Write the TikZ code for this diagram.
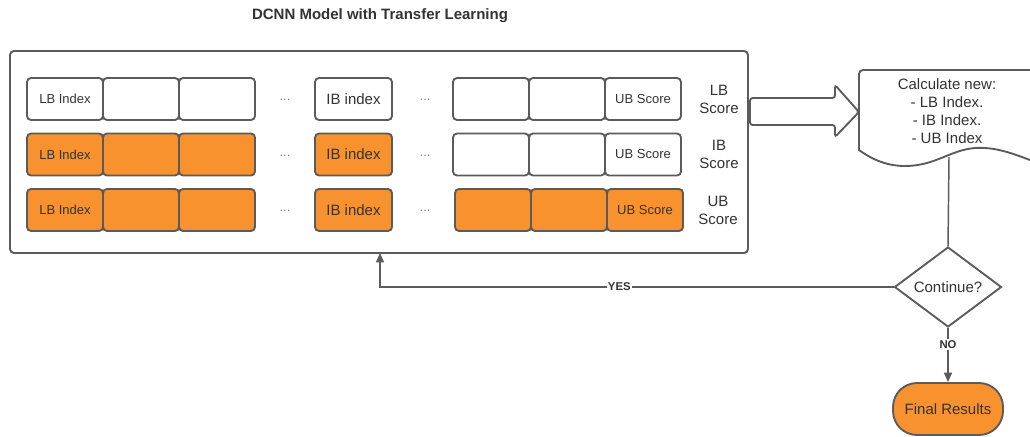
\documentclass[tikz,border=0pt]{standalone}
\usepackage{fontspec}
\setmainfont{Liberation Sans}
\usetikzlibrary{shapes.geometric,arrows.meta}
\definecolor{edge}{HTML}{5B5B5B}
\definecolor{ink}{HTML}{333333}
\definecolor{hotfill}{HTML}{F7922F}
\tikzset{
  cell/.style={draw=edge, line width=1.4pt, rounded corners=3pt,
    minimum width=57pt, minimum height=31.5pt, inner sep=0pt, text=ink,
    font=\fontsize{9.75}{11}\selectfont},
  hot/.style={fill=hotfill},
  bigtext/.style={font=\fontsize{11.25}{13.5}\selectfont, text=ink},
  dots/.style={text=edge!75, font=\fontsize{9.5}{10}\selectfont},
  flow/.style={draw=edge, line width=1.1pt},
  tip/.style={-{Triangle[length=7pt,width=6pt]}},
  tag/.style={font=\bfseries\fontsize{8.5}{10}\selectfont, text=ink,
    fill=white, inner sep=1pt},
}
\begin{document}
\begin{tikzpicture}[x=0.75pt,y=-0.75pt]
\useasboundingbox (0,0) rectangle (1030,436);
\fill[white] (0,0) rectangle (1030,436);

% title
\node[font=\bfseries\fontsize{11.25}{13}\selectfont, text=ink] (title) at (380,16)
  {DCNN Model with Transfer Learning};

% model frame
\node[draw=edge, line width=1.4pt, rounded corners=3pt,
  minimum width=553.5pt, minimum height=151.5pt] (model) at (379,152) {};

% row 1
\node[cell] (a1) at (65,99) {LB Index};
\node[cell] (a2) at (141,99) {};
\node[cell] (a3) at (217,99) {};
\node[dots] (ad1) at (285,100) {...};
\node[cell, minimum width=57.75pt, font=\fontsize{11.25}{13}\selectfont] (ai) at (353.5,99) {IB index};
\node[dots] (ad2) at (425,100) {...};
\node[cell] (ar1) at (491,99) {};
\node[cell] (ar2) at (567,99) {};
\node[cell] (ar3) at (643,99) {UB Score};
\node[bigtext, align=center] (al) at (719,99) {LB\\Score};

% row 2
\node[cell,hot] (b1) at (65,154.5) {LB Index};
\node[cell,hot] (b2) at (141,154.5) {};
\node[cell,hot] (b3) at (217,154.5) {};
\node[dots] (bd1) at (285,155.5) {...};
\node[cell,hot, minimum width=57.75pt, font=\fontsize{11.25}{13}\selectfont] (bi) at (353.5,154.5) {IB index};
\node[dots] (bd2) at (425,155.5) {...};
\node[cell] (br1) at (491,154.5) {};
\node[cell] (br2) at (567,154.5) {};
\node[cell] (br3) at (643,154.5) {UB Score};
\node[bigtext, align=center] (bl) at (719,154.5) {IB\\Score};

% row 3
\node[cell,hot] (c1) at (65,210) {LB Index};
\node[cell,hot] (c2) at (141,210) {};
\node[cell,hot] (c3) at (217,210) {};
\node[dots] (cd1) at (285,211) {...};
\node[cell,hot, minimum width=57.75pt, font=\fontsize{11.25}{13}\selectfont] (ci) at (353.5,210) {IB index};
\node[dots] (cd2) at (425,211) {...};
\node[cell,hot] (cr1) at (493,210) {};
\node[cell,hot] (cr2) at (569,210) {};
\node[cell,hot] (cr3) at (645,210) {UB Score};
\node[bigtext, align=center] (cl) at (718,210) {UB\\Score};

% block arrow into the calculation step
\draw[draw=edge, line width=1.4pt, rounded corners=2pt, fill=white]
  (750,98) -- (835,98) -- (835,85) -- (859,112) -- (835,137) -- (835,125)
  -- (750,125) -- cycle;

% document shape with wavy bottom
\draw[draw=edge, line width=1.4pt, fill=white]
  (859,150) [rounded corners=3pt] -- (859,70) [sharp corners] -- (1040,70)
  -- (1040,164)
  .. controls (1010,152) and (995,147) .. (975,148)
  .. controls (950,150) and (935,166) .. (905,166)
  .. controls (885,166) and (870,158) .. (859,150) -- cycle;
\node[bigtext, align=center] (calc) at (947,111)
  {Calculate new:\\- LB Index.\\- IB Index.\\- UB Index};
\coordinate (docbase) at (949,157);

% decision and result
\node[diamond, draw=edge, line width=1.4pt, fill=white, aspect=1.34,
  minimum width=80.25pt, minimum height=60pt, inner sep=0pt, bigtext]
  (cont) at (948,287) {Continue?};
\node[draw=edge, line width=1.4pt, fill=hotfill, rounded corners=18pt,
  minimum width=82.5pt, minimum height=39pt, bigtext]
  (final) at (948,409) {Final Results};

% connectors
\coordinate (back) at (380,253);
\draw[flow] (docbase) -- (cont.north);
\draw[flow,tip] (cont.west) -| node[tag,pos=0.267] (yes) {YES} (back);
\draw[flow,tip] (cont.south) -- node[tag,pos=0.3] (no) {NO} (final.north);
\end{tikzpicture}
\end{document}
